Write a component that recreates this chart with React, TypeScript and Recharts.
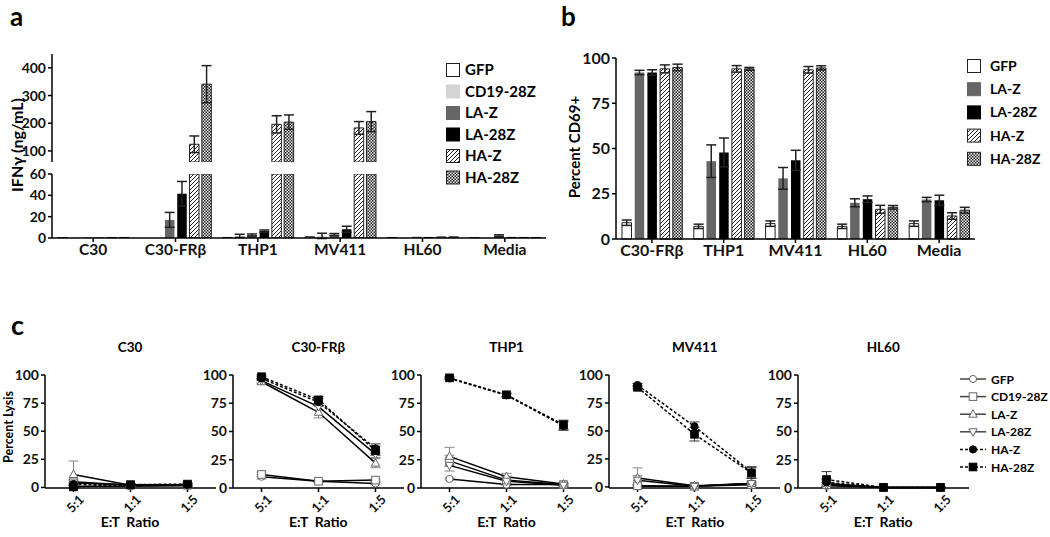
import { BarChart, Bar, LineChart, Line, XAxis, YAxis, ErrorBar } from 'recharts';

const FONT = 'Lato, "Open Sans", sans-serif';

// a: IFNγ (ng/mL)
const ifnTargets = ['C30', 'C30-FRβ', 'THP1', 'MV411', 'HL60', 'Media'];
const ifnGFP = [0.4, 0, 0.5, 1.2, 0.5, 0.3];
const ifnGFPErr = [0, 0, 0, 0, 0, 0];
const ifnCD19 = [0.8, 0, 2, 2, 0.6, 0.6];
const ifnCD19Err = [0, 0, 1.5, 2.5, 0, 0];
const ifnLAZ = [0.5, 17, 2.8, 3.2, 1.2, 2.2];
const ifnLAZErr = [0, 7, 1, 1, 0, 0.8];
const ifnLA28Z = [0.5, 41.5, 6.5, 8.2, 1, 1];
const ifnLA28ZErr = [0, 11.5, 1, 2.8, 0, 0];
const ifnHAZ = [0.5, 124, 196, 183, 1, 0.5];
const ifnHAZErr = [0, 30, 31, 23, 0, 0];
const ifnHA28Z = [0.5, 341, 204, 206, 1.1, 0.5];
const ifnHA28ZErr = [0, 67, 26, 36, 0, 0];
const ifnLowTicks = [0, 20, 40, 60];
const ifnHighTicks = [100, 200, 300, 400];

// b: Percent CD69+
const cd69Targets = ['C30-FRβ', 'THP1', 'MV411', 'HL60', 'Media'];
const cd69GFP = [9, 7, 8.5, 7, 8.5];
const cd69GFPErr = [1.5, 1.2, 1.5, 1.2, 1.5];
const cd69LAZ = [92, 43, 33.5, 20, 21.8];
const cd69LAZErr = [1.2, 9, 6, 2.2, 1.2];
const cd69LA28Z = [92, 47.8, 43.5, 22, 21.4];
const cd69LA28ZErr = [1.5, 8, 5.5, 1.8, 2.8];
const cd69HAZ = [94, 94, 93.5, 16.4, 12.7];
const cd69HAZErr = [2.2, 1.8, 1.8, 2.2, 1.8];
const cd69HA28Z = [94.8, 94, 94.5, 17.5, 15.9];
const cd69HA28ZErr = [1.8, 0.8, 1.2, 1, 1.6];
const cd69Ticks = [0, 25, 50, 75, 100];

// c: Percent Lysis, one row per target, values at 5:1, 1:1, 1:5
const ratios = ['5:1', '1:1', '1:5'];
const lysisTargets = ['C30', 'C30-FRβ', 'THP1', 'MV411', 'HL60'];
const lysisGFP = [[1, 1, 1.5], [10, 6, 4], [8, 3, 3], [0.5, 0.5, 3], [2, 0.5, 0.5]];
const lysisGFPErr = [[1, 1, 1], [2, 1, 1], [1, 1, 1], [1, 0.5, 1], [1, 0.5, 0.5]];
const lysisCD19 = [[5, 2, 2], [12, 6, 7], [24, 7, 3], [1, 0.5, 2], [3, 0.5, 0.5]];
const lysisCD19Err = [[2, 1, 1], [2, 1, 1], [5, 3, 1], [1, 0.5, 1], [2, 0.5, 0.5]];
const lysisLAZ = [[11.5, 2, 2], [94, 67, 22], [28, 10, 3.5], [8, 1, 3], [4, 0.5, 0.5]];
const lysisLAZErr = [[12, 1, 1], [2, 5, 4], [8, 3, 1], [9, 0.5, 2], [3, 0.5, 0.5]];
const lysisLA28Z = [[4, 2.5, 2.5], [95, 72, 30], [20, 6, 2.5], [6, 0.5, 3], [3, 0.5, 0.5]];
const lysisLA28ZErr = [[2, 1, 1], [2, 3, 3], [5, 2, 1], [4, 0.5, 1], [2, 0.5, 0.5]];
const lysisHAZ = [[3, 2, 2.5], [97, 76, 35], [97, 82, 55], [91, 54, 13], [5, 0.5, 0.5]];
const lysisHAZErr = [[1, 1, 1], [1.5, 3, 4], [1, 1.5, 4], [1.5, 4, 5], [3, 0.5, 0.5]];
const lysisHA28Z = [[0.5, 2.5, 3], [98.5, 78, 33], [97.5, 82.5, 56], [89, 47, 12.5], [7.5, 0.5, 0.5]];
const lysisHA28ZErr = [[1, 1, 1], [1.5, 3, 4], [1, 1.5, 4], [1.5, 6, 5], [7, 0.5, 0.5]];
const lysisTicks = [0, 25, 50, 75, 100];

const BREAK = 60;

const ifnSeries = [
  { key: 'gfp', name: 'GFP', vals: ifnGFP, errs: ifnGFPErr, fill: '#fff', stroke: '#222' },
  { key: 'cd19', name: 'CD19-28Z', vals: ifnCD19, errs: ifnCD19Err, fill: '#d4d4d4', stroke: 'none' },
  { key: 'laz', name: 'LA-Z', vals: ifnLAZ, errs: ifnLAZErr, fill: '#666', stroke: 'none' },
  { key: 'la28z', name: 'LA-28Z', vals: ifnLA28Z, errs: ifnLA28ZErr, fill: '#000', stroke: 'none' },
  { key: 'haz', name: 'HA-Z', vals: ifnHAZ, errs: ifnHAZErr, fill: 'url(#hatch)', stroke: '#222' },
  { key: 'ha28z', name: 'HA-28Z', vals: ifnHA28Z, errs: ifnHA28ZErr, fill: 'url(#check)', stroke: '#222' },
];

const cd69Series = [
  { key: 'gfp', name: 'GFP', vals: cd69GFP, errs: cd69GFPErr, fill: '#fff', stroke: '#222' },
  { key: 'laz', name: 'LA-Z', vals: cd69LAZ, errs: cd69LAZErr, fill: '#666', stroke: 'none' },
  { key: 'la28z', name: 'LA-28Z', vals: cd69LA28Z, errs: cd69LA28ZErr, fill: '#000', stroke: 'none' },
  { key: 'haz', name: 'HA-Z', vals: cd69HAZ, errs: cd69HAZErr, fill: 'url(#hatch)', stroke: '#222' },
  { key: 'ha28z', name: 'HA-28Z', vals: cd69HA28Z, errs: cd69HA28ZErr, fill: 'url(#check)', stroke: '#222' },
];

const lysisSeries = [
  { key: 'gfp', name: 'GFP', vals: lysisGFP, errs: lysisGFPErr, shape: 'circle', filled: false, dashed: false },
  { key: 'cd19', name: 'CD19-28Z', vals: lysisCD19, errs: lysisCD19Err, shape: 'square', filled: false, dashed: false },
  { key: 'laz', name: 'LA-Z', vals: lysisLAZ, errs: lysisLAZErr, shape: 'up', filled: false, dashed: false },
  { key: 'la28z', name: 'LA-28Z', vals: lysisLA28Z, errs: lysisLA28ZErr, shape: 'down', filled: false, dashed: false },
  { key: 'haz', name: 'HA-Z', vals: lysisHAZ, errs: lysisHAZErr, shape: 'circle', filled: true, dashed: true },
  { key: 'ha28z', name: 'HA-28Z', vals: lysisHA28Z, errs: lysisHA28ZErr, shape: 'square', filled: true, dashed: true },
];

const ifnLow = ifnTargets.map((t, i) => {
  const row: any = { target: t };
  ifnSeries.forEach((s) => {
    const v = s.vals[i];
    row[s.key] = Math.min(v, BREAK);
    row[s.key + 'E'] = v <= BREAK ? s.errs[i] : 0;
  });
  return row;
});

const ifnHigh = ifnTargets.map((t, i) => {
  const row: any = { target: t };
  ifnSeries.forEach((s) => {
    const v = s.vals[i];
    row[s.key] = v > BREAK ? v : null;
    row[s.key + 'E'] = v > BREAK ? s.errs[i] : 0;
  });
  return row;
});

const cd69Data = cd69Targets.map((t, i) => {
  const row: any = { target: t };
  cd69Series.forEach((s) => {
    row[s.key] = s.vals[i];
    row[s.key + 'E'] = s.errs[i];
  });
  return row;
});

const lysisData = (t: number) =>
  ratios.map((r, i) => {
    const row: any = { ratio: r };
    lysisSeries.forEach((s) => {
      row[s.key] = s.vals[t][i];
      row[s.key + 'E'] = s.errs[t][i];
    });
    return row;
  });

const tickStyle = (size: number) => ({ fontSize: size, fontWeight: 700, fill: '#111', fontFamily: FONT });

function Marker({ shape, cx, cy, filled }: any) {
  if (cx == null || cy == null) return <g />;
  const fill = filled ? '#000' : '#fff';
  const stroke = filled ? '#000' : '#666';
  if (shape === 'circle') return <circle cx={cx} cy={cy} r={3.6} fill={fill} stroke={stroke} strokeWidth={1} />;
  if (shape === 'square') return <rect x={cx - 3.8} y={cy - 3.8} width={7.6} height={7.6} fill={fill} stroke={stroke} strokeWidth={1} />;
  if (shape === 'up')
    return <polygon points={`${cx},${cy - 4.5} ${cx - 4.2},${cy + 3} ${cx + 4.2},${cy + 3}`} fill={fill} stroke={stroke} strokeWidth={1} />;
  return <polygon points={`${cx},${cy + 4.5} ${cx - 4.2},${cy - 3} ${cx + 4.2},${cy - 3}`} fill={fill} stroke={stroke} strokeWidth={1} />;
}

const RatioTick = (p: any) => (
  <g transform={`translate(${p.x + 5},${p.y})`}>
    <text transform="rotate(-45)" textAnchor="end" dy="0.7em" {...tickStyle(13)}>
      {p.payload.value}
    </text>
  </g>
);

function ifnBars() {
  return ifnSeries.map((s) => (
    <Bar key={s.key} dataKey={s.key} fill={s.fill} stroke={s.stroke} strokeWidth={1} isAnimationActive={false}>
      <ErrorBar dataKey={s.key + 'E'} width={5} stroke="#222" strokeWidth={1.5} />
    </Bar>
  ));
}

export default function App() {
  const axisLine = { stroke: '#000', strokeWidth: 1.5 };
  const tickLine = { stroke: '#000', strokeWidth: 1.5 };
  return (
    <div style={{ position: 'relative', width: 1050, height: 537, background: '#fff', fontFamily: FONT, overflow: 'hidden' }}>
      <style>{'body{margin:0}'}</style>

      {/* panel a, upper segment */}
      <div style={{ position: 'absolute', left: 0, top: 44 }}>
        <BarChart width={548} height={118} data={ifnHigh} margin={{ top: 10, right: 2, left: 0, bottom: 0 }} barSize={9.5} barGap={2.8}>
          <XAxis dataKey="target" hide />
          <YAxis domain={[BREAK, 450]} ticks={ifnHighTicks} allowDataOverflow width={52} axisLine={axisLine} tickLine={tickLine} tickSize={4} tick={tickStyle(14)} />
          {ifnBars()}
        </BarChart>
      </div>

      {/* panel a, lower segment */}
      <div style={{ position: 'absolute', left: 0, top: 164 }}>
        <BarChart width={548} height={104} data={ifnLow} margin={{ top: 10, right: 2, left: 0, bottom: 0 }} barSize={9.5} barGap={2.8}>
          <XAxis dataKey="target" height={30} axisLine={axisLine} tickLine={tickLine} tickSize={4} tick={tickStyle(15.5)} interval={0} />
          <YAxis domain={[0, BREAK]} ticks={ifnLowTicks} allowDataOverflow width={52} axisLine={axisLine} tickLine={tickLine} tickSize={4} tick={tickStyle(14)} />
          {ifnBars()}
        </BarChart>
      </div>

      {/* panel b */}
      <div style={{ position: 'absolute', left: 560, top: 48 }}>
        <BarChart width={417} height={221} data={cd69Data} margin={{ top: 10, right: 2, left: 0, bottom: 0 }} barSize={9.5} barGap={3.2}>
          <XAxis dataKey="target" height={30} axisLine={axisLine} tickLine={tickLine} tickSize={4} tick={tickStyle(16)} interval={0} />
          <YAxis domain={[0, 100]} ticks={cd69Ticks} width={56} axisLine={axisLine} tickLine={tickLine} tickSize={4} tick={tickStyle(16)} />
          {cd69Series.map((s) => (
            <Bar key={s.key} dataKey={s.key} fill={s.fill} stroke={s.stroke} strokeWidth={1} isAnimationActive={false}>
              <ErrorBar dataKey={s.key + 'E'} width={5} stroke="#222" strokeWidth={1.5} />
            </Bar>
          ))}
        </BarChart>
      </div>

      {/* panel c */}
      {lysisTargets.map((t, k) => (
        <div key={t} style={{ position: 'absolute', left: 10.5 + 188.3 * k, top: 365 }}>
          <LineChart width={207} height={157} data={lysisData(k)} margin={{ top: 10, right: 2, left: 0, bottom: 0 }}>
            <XAxis dataKey="ratio" height={34} padding={{ left: 28.5, right: 28.5 }} axisLine={axisLine} tickLine={tickLine} tickSize={4} tick={<RatioTick />} interval={0} />
            <YAxis domain={[0, 100]} ticks={lysisTicks} width={34} axisLine={axisLine} tickLine={tickLine} tickSize={4} tick={tickStyle(14)} />
            {lysisSeries.map((s) => (
              <Line
                key={s.key}
                dataKey={s.key}
                stroke="#000"
                strokeWidth={1.5}
                strokeDasharray={s.dashed ? '3 2' : undefined}
                isAnimationActive={false}
                dot={(p: any) => <Marker key={`${s.key}-${p.index}`} shape={s.shape} cx={p.cx} cy={p.cy} filled={s.filled} />}
              >
                <ErrorBar dataKey={s.key + 'E'} width={5} stroke={s.filled ? '#333' : '#888'} strokeWidth={1} />
              </Line>
            ))}
          </LineChart>
        </div>
      ))}

      {/* labels and legends */}
      <svg width={1050} height={537} style={{ position: 'absolute', left: 0, top: 0, pointerEvents: 'none' }} fontFamily={FONT} fontWeight={700}>
        <defs>
          <pattern id="hatch" patternUnits="userSpaceOnUse" width={4} height={4}>
            <rect width={4} height={4} fill="#fff" />
            <path d="M-1,1 l2,-2 M0,4 l4,-4 M3,5 l2,-2" stroke="#222" strokeWidth={1} />
          </pattern>
          <pattern id="check" patternUnits="userSpaceOnUse" width={3} height={3}>
            <rect width={3} height={3} fill="#eee" />
            <rect width={1.5} height={1.5} fill="#222" />
            <rect x={1.5} y={1.5} width={1.5} height={1.5} fill="#222" />
          </pattern>
        </defs>

        <text x={10} y={26} fontSize={26}>a</text>
        <text x={561} y={26} fontSize={26}>b</text>
        <text x={11} y={335} fontSize={27}>c</text>

        <text transform="translate(16,145) rotate(-90)" textAnchor="middle" dominantBaseline="central" fontSize={16}>IFNγ (ng/mL)</text>
        <text transform="translate(574,147) rotate(-90)" textAnchor="middle" dominantBaseline="central" fontSize={15}>Percent CD69+</text>
        <text transform="translate(8,427) rotate(-90)" textAnchor="middle" dominantBaseline="central" fontSize={12.5}>Percent Lysis</text>

        {ifnSeries.map((s, i) => (
          <g key={s.key}>
            <rect x={446.5} y={63.5 + i * 21.5} width={13} height={13} fill={s.fill} stroke={s.stroke === 'none' ? s.fill : '#222'} strokeWidth={1} />
            <text x={465} y={75 + i * 21.5} fontSize={15}>{s.name}</text>
          </g>
        ))}

        {cd69Series.map((s, i) => (
          <g key={s.key}>
            <rect x={967.5} y={59.5 + i * 23.2} width={13} height={13} fill={s.fill} stroke={s.stroke === 'none' ? s.fill : '#222'} strokeWidth={1} />
            <text x={990} y={71 + i * 23.2} fontSize={14}>{s.name}</text>
          </g>
        ))}

        {lysisTargets.map((t, k) => (
          <g key={t}>
            <text x={130 + 188.3 * k} y={352} textAnchor="middle" fontSize={13.5}>{t}</text>
            <text x={130 + 188.3 * k} y={527} textAnchor="middle" fontSize={14} style={{ whiteSpace: 'pre' }}>{'E:T  Ratio'}</text>
          </g>
        ))}

        {lysisSeries.map((s, i) => {
          const y = 379 + i * 17.6;
          return (
            <g key={s.key}>
              <line x1={960} x2={986} y1={y} y2={y} stroke={s.dashed ? '#000' : '#444'} strokeWidth={1.5} strokeDasharray={s.dashed ? '3 2' : undefined} />
              <Marker shape={s.shape} cx={973} cy={y} filled={s.filled} />
              <text x={991} y={y + 4.5} fontSize={12}>{s.name}</text>
            </g>
          );
        })}
      </svg>
    </div>
  );
}
